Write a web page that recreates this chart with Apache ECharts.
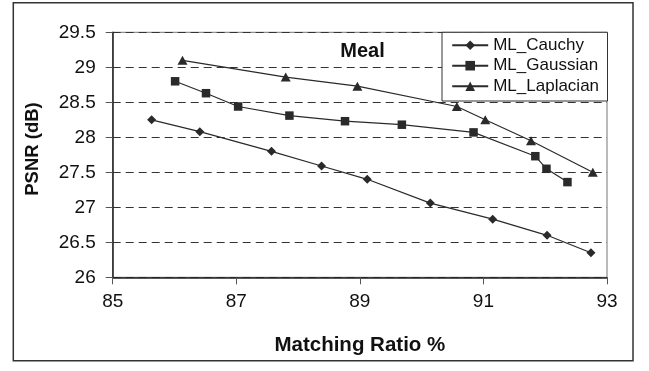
<!DOCTYPE html>
<html>
<head>
<meta charset="utf-8">
<script src="https://cdn.jsdelivr.net/npm/echarts@6/dist/echarts.min.js"></script>
<style>
html,body{margin:0;padding:0;background:#fff;}
#chart{width:649px;height:371px;}
</style>
</head>
<body>
<div id="chart"></div>
<script>
// ---- data ----
var seriesNames = ['ML_Cauchy', 'ML_Gaussian', 'ML_Laplacian'];
var cauchyX = [85.63, 86.41, 87.57, 88.38, 89.12, 90.14, 91.15, 92.03, 92.74];
var cauchyY = [28.25, 28.08, 27.80, 27.59, 27.40, 27.06, 26.83, 26.60, 26.35];
var gaussianX = [86.01, 86.51, 87.03, 87.86, 88.76, 89.68, 90.84, 91.84, 92.02, 92.36];
var gaussianY = [28.80, 28.63, 28.44, 28.31, 28.23, 28.18, 28.07, 27.73, 27.55, 27.36];
var laplacianX = [86.13, 87.80, 88.96, 90.57, 91.03, 91.77, 92.77];
var laplacianY = [29.10, 28.86, 28.73, 28.44, 28.25, 27.95, 27.50];
var chartTitle = 'Meal';
var xTitle = 'Matching Ratio %';
var yTitle = 'PSNR (dB)';
var xMin = 85, xMax = 93, xStep = 2;
var yMin = 26, yMax = 29.5, yStep = 0.5;

function pairs(xs, ys) { return xs.map(function (x, i) { return [x, ys[i]]; }); }

var FONT = '"Liberation Sans", Arial, sans-serif';
var chart = echarts.init(document.getElementById('chart'), null, {renderer: 'canvas'});

function lineSeries(name, xs, ys, symbol, size) {
  return {
    name: name, type: 'line', data: pairs(xs, ys),
    symbol: symbol, symbolSize: size,
    itemStyle: {color: '#2a2a2a', borderWidth: 0},
    lineStyle: {color: '#2a2a2a', width: 1.2},
    emphasis: {disabled: true},
    animation: false
  };
}

chart.setOption({
  animation: false,
  backgroundColor: '#ffffff',
  grid: {left: 112.7, right: 42, top: 32.3, bottom: 93.7, show: true, borderColor: '#777777', borderWidth: 1},
  xAxis: {
    type: 'value', min: xMin, max: xMax, interval: xStep,
    name: xTitle, nameLocation: 'middle', nameGap: 58,
    nameTextStyle: {fontFamily: FONT, fontWeight: 'bold', fontSize: 20.5, color: '#111'},
    axisLine: {lineStyle: {color: '#222', width: 1.5}},
    axisTick: {show: true, length: 7, lineStyle: {color: '#555'}},
    axisLabel: {margin: 15, fontFamily: FONT, fontSize: 19, color: '#111'},
    splitLine: {show: false}
  },
  yAxis: {
    type: 'value', min: yMin, max: yMax, interval: yStep,
    axisLine: {show: true, lineStyle: {color: '#222', width: 1.5}},
    axisTick: {show: true, length: 7, lineStyle: {color: '#555'}},
    axisLabel: {margin: 17, fontFamily: FONT, fontSize: 19, color: '#111'},
    splitLine: {show: true, lineStyle: {color: '#333', type: [8, 5], width: 1}}
  },
  legend: {
    orient: 'vertical', left: 446.2, top: 31.7,
    itemWidth: 36, itemHeight: 12, itemGap: 3.5,
    textStyle: {fontFamily: FONT, fontSize: 17, color: '#111'},
    data: seriesNames
  },
  graphic: [
    {type: 'rect', z: 3, shape: {x: 442, y: 32.3, width: 165.5, height: 68.7},
     style: {fill: '#ffffff', stroke: '#333', lineWidth: 1}},
    {type: 'rect', shape: {x: 13.3, y: 2.7, width: 619.7, height: 358},
     style: {fill: 'none', stroke: '#333', lineWidth: 1.5}},
    {type: 'text', x: 32.7, y: 149, rotation: Math.PI / 2,
     style: {text: yTitle, fontFamily: FONT, fontWeight: 'bold', fontSize: 18.5, fill: '#111', align: 'center', verticalAlign: 'middle'}},
    {type: 'text', x: 362.5, y: 51, z: 5,
     style: {text: chartTitle, fontFamily: FONT, fontWeight: 'bold', fontSize: 20, fill: '#111', align: 'center', verticalAlign: 'middle'}}
  ],
  series: [
    lineSeries(seriesNames[0], cauchyX, cauchyY, 'diamond', 9),
    lineSeries(seriesNames[1], gaussianX, gaussianY, 'rect', 8.5),
    lineSeries(seriesNames[2], laplacianX, laplacianY, 'triangle', [10, 9])
  ]
});
</script>
</body>
</html>
